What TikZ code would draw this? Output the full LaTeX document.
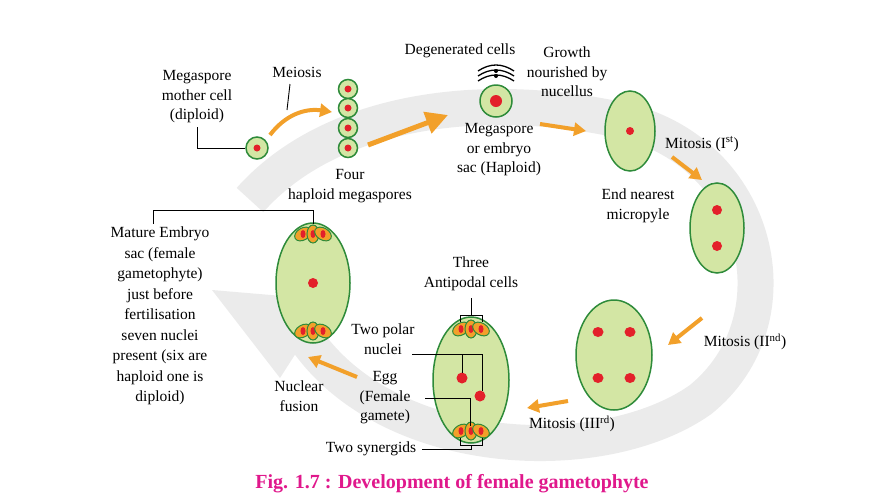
\documentclass[tikz,border=0pt]{standalone}
\usepackage{fontspec}
\setmainfont{Liberation Serif}
\usetikzlibrary{arrows.meta}
\definecolor{cellg}{HTML}{D3E6A4}
\definecolor{cellb}{HTML}{2E8B3A}
\definecolor{dotr}{HTML}{E3202A}
\definecolor{arr}{HTML}{F2A02A}
\definecolor{band}{HTML}{EBEBEB}
\definecolor{capc}{HTML}{E0188C}
\newcommand{\cluster}[2]{%
 \foreach \dx/\a in {-10/30,0/90,10/150}{
  \path[draw=cellb,fill=arr,line width=1pt,rotate around={\a:(#1+\dx,#2)}] (#1+\dx,#2) ellipse (9 and 6);
  \fill[dotr] (#1+\dx,#2) ellipse (2.5 and 4);}}
\begin{document}
\begin{tikzpicture}[x=1pt,y=-1pt,
 txt/.style={font=\fontsize{15.5}{19.5}\selectfont,align=center,inner sep=1pt},
 cell/.style={draw=cellb,fill=cellg,line width=1.5pt},
 dot/.style={fill=dotr},
 oarr/.style={draw=arr,line width=4pt,-{Triangle[length=12pt,width=13pt]}},
 lbl/.style={line width=0.9pt}]
\useasboundingbox (0,0) rectangle (889,499);
% grey band
\draw[band,line width=36pt] (250,200) .. controls (330,110) and (480,90) .. (620,120)
  .. controls (760,150) and (800,320) .. (700,400)
  .. controls (600,470) and (380,460) .. (300,330);
\fill[band] (330,300) -- (212,290) -- (280,378) -- cycle;
% cells
\draw[cell] (257,148) circle (11); \fill[dot] (257,148) circle (3.5);
\foreach \y in {89,108,128,148}{\draw[cell] (348,\y) circle (9.5); \fill[dot] (348,\y) circle (3.5);}
\draw[cell] (496,101) circle (16); \fill[dot] (496,101) circle (6);
\foreach \r in {0,5,10}{\draw[line width=1.3pt] (478,81-\r) .. controls (490,73-\r) and (502,73-\r) .. (514,81-\r);}
\fill (496,76) circle (2); \fill (496,71) circle (2);
\draw[cell] (630,131) ellipse (25 and 40); \fill[dot] (630,131) circle (4);
\draw[cell] (717,228) ellipse (27 and 45); \fill[dot] (717,210) circle (5); \fill[dot] (717,246) circle (5);
\draw[cell] (614,355) ellipse (38 and 55);
\foreach \px/\py in {598/332,630/332,598/378,630/378}{\fill[dot] (\px,\py) ellipse (5.5 and 5);}
\draw[cell] (471,380) ellipse (38 and 63);
\cluster{471}{329}\cluster{471}{431}
\fill[dot] (462,378) circle (5.5); \fill[dot] (480,396) circle (5.5);
\draw[cell] (313,283) ellipse (37 and 60);
\cluster{313}{234}\cluster{313}{331}
\fill[dot] (313,283) circle (5);
% orange arrows
\draw[oarr] (270,135) .. controls (285,115) and (305,108) .. (332,112);
\draw[oarr,line width=5pt,-{Triangle[length=22pt,width=22pt]}] (368,145) -- (448,115);
\draw[oarr] (540,124) -- (586,131);
\draw[oarr] (672,157) -- (702,180);
\draw[oarr] (702,318) -- (668,345);
\draw[oarr] (568,401) -- (527,408);
\draw[oarr] (357,377) -- (308,357);
% labels
\node[txt] (mmc) at (197,97) {Megaspore\\mother cell\\(diploid)};
\draw[lbl] (197,127) -- (197,148) -- (245,148);
\node[txt] (mei) at (297,72) {Meiosis};
\draw[lbl] (290,84) -- (287,110);
\node[txt] at (350,186) {Four\\haploid megaspores};
\node[txt] at (460,51) {Degenerated cells};
\node[txt] at (567,72) {Growth\\nourished by\\nucellus};
\node[txt] at (499,150) {Megaspore\\or embryo\\sac (Haploid)};
\node[txt] at (702,144) {Mitosis (I\textsuperscript{st})};
\node[txt] at (638,206) {End nearest\\micropyle};
\node[txt] at (745,342) {Mitosis (II\textsuperscript{nd})};
\node[txt] at (572,424) {Mitosis (III\textsuperscript{rd})};
\node[txt,font=\fontsize{15.5}{20.5}\selectfont] at (160,316) {Mature Embryo\\sac (female\\gametophyte)\\just before\\fertilisation\\seven nuclei\\present (six are\\haploid one is\\diploid)};
\draw[lbl] (153,224) -- (153,210) -- (313,210) -- (313,224);
\node[txt] at (299,396) {Nuclear\\fusion};
\node[txt] at (471,274) {Three\\Antipodal cells};
\draw[lbl] (460,322) -- (460,315) -- (482,315) -- (482,322); \draw[lbl] (471,315) -- (471,298);
\node[txt] at (383,339) {Two polar\\nuclei};
\draw[lbl] (412,354) -- (482,354) -- (482,391); \draw[lbl] (462,354) -- (462,373);
\node[txt] at (385,398) {Egg\\(Female\\gamete)};
\draw[lbl] (425,398) -- (470,398) -- (470,426);
\draw[lbl] (460,438) -- (460,445) -- (482,445) -- (482,438);
\node[txt] at (371,449) {Two synergids};
\draw[lbl] (422,449) -- (471,449) -- (471,445);
\node[font=\bfseries\fontsize{20}{22}\selectfont,text=capc] at (452,484) {Fig. 1.7 : Development of female gametophyte};
\end{tikzpicture}
\end{document}
